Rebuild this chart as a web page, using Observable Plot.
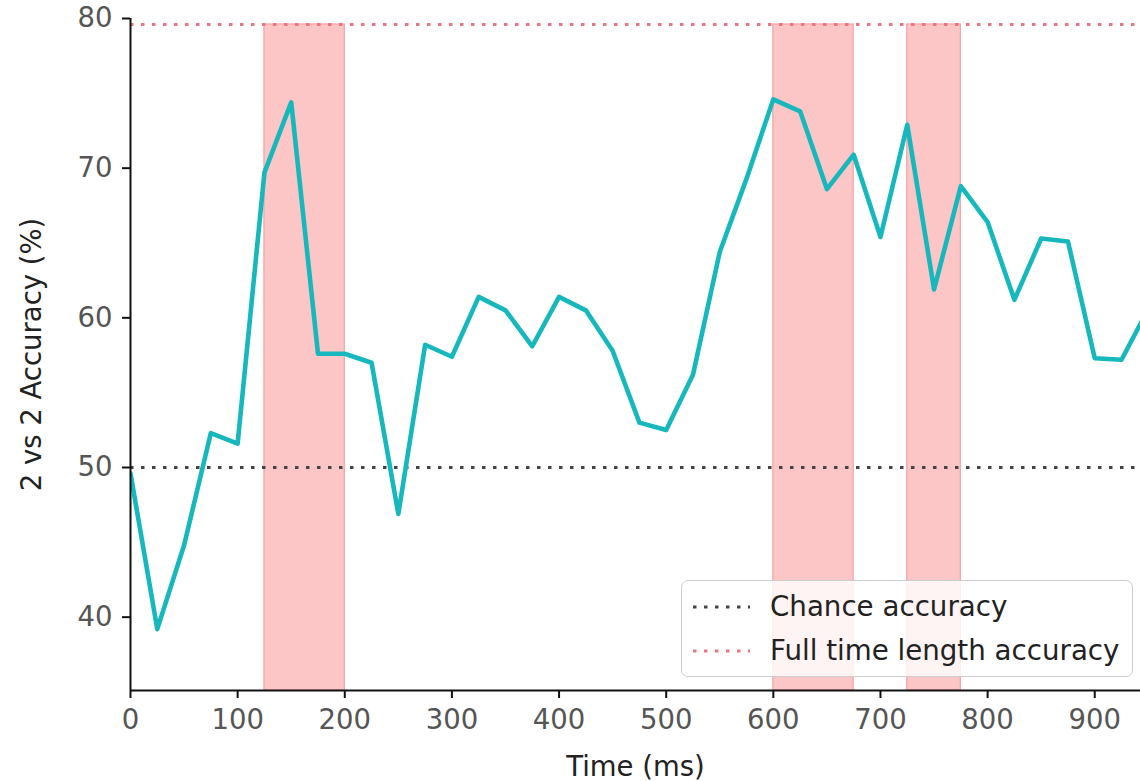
<!DOCTYPE html>
<html>
<head>
<meta charset="utf-8">
<script src="https://cdn.jsdelivr.net/npm/d3@7"></script>
<script src="https://cdn.jsdelivr.net/npm/@observablehq/plot@0.6"></script>
<style>
  html, body { margin: 0; padding: 0; background: #fff; }
  #wrap { position: relative; width: 1140px; height: 781px; font-family: "DejaVu Sans", sans-serif; }
  #legend {
    position: absolute; left: 681px; top: 580px; width: 452px; height: 97px;
    box-sizing: border-box; border: 1.5px solid #cccccc; border-radius: 7px;
    background: rgba(255,255,255,0.8);
  }
  .row { position: absolute; left: 0; height: 40px; display: flex; align-items: center; }
  .row svg { position: absolute; left: 10px; }
  .row span { position: absolute; left: 88px; font-size: 27.7px; color: #222; white-space: nowrap; line-height: 40px; }
</style>
</head>
<body>
<div id="wrap"></div>
<script>
// ---- data ----
const times = [0, 25, 50, 75, 100, 125, 150, 175, 200, 225, 250, 275, 300, 325, 350, 375, 400, 425, 450, 475,
               500, 525, 550, 575, 600, 625, 650, 675, 700, 725, 750, 775, 800, 825, 850, 875, 900, 925, 950];
const accuracy = [49.6, 39.2, 44.8, 52.3, 51.6, 69.7, 74.4, 57.6, 57.6, 57.0, 46.9, 58.2, 57.4, 61.4, 60.5, 58.1, 61.4, 60.5, 57.8, 53.0,
                  52.5, 56.2, 64.4, 69.3, 74.6, 73.8, 68.6, 70.9, 65.4, 72.9, 61.9, 68.8, 66.4, 61.2, 65.3, 65.1, 57.3, 57.2, 60.6];
const spanStart = [125, 600, 725];
const spanEnd = [200, 675, 775];
const chanceAccuracy = 50;
const fullAccuracy = 79.6;
const xTicks = [0, 100, 200, 300, 400, 500, 600, 700, 800, 900];
const yTicks = [40, 50, 60, 70, 80];
const xDomain = [0, 942.7];
const yDomain = [35.1, 80];
const legendLabels = ["Chance accuracy", "Full time length accuracy"];

const series = times.map((t, i) => ({t, v: accuracy[i]}));
const spans = spanStart.map((s, i) => ({x1: s, x2: spanEnd[i], y1: yDomain[0], y2: fullAccuracy}));

const chart = Plot.plot({
  width: 1140,
  height: 781,
  marginLeft: 130,
  marginRight: 0,
  marginTop: 18,
  marginBottom: 91,
  style: {fontFamily: "DejaVu Sans", background: "white", overflow: "visible"},
  x: {domain: xDomain},
  y: {domain: yDomain},
  marks: [
    Plot.rect(spans, {x1: "x1", x2: "x2", y1: "y1", y2: "y2", fill: "#fdc6c6", stroke: "#f2a3a3", strokeWidth: 1.2}),
    Plot.ruleY([chanceAccuracy], {stroke: "#444", strokeWidth: 3, strokeDasharray: "3.5,7.5"}),
    Plot.ruleY([fullAccuracy], {stroke: "#ec7483", strokeWidth: 3, strokeDasharray: "3.5,7.5"}),
    Plot.line(series, {x: "t", y: "v", stroke: "#17b8bd", strokeWidth: 4.6, clip: true}),
    Plot.ruleX([0], {stroke: "#111", strokeWidth: 2}),
    Plot.ruleY([yDomain[0]], {stroke: "#111", strokeWidth: 2}),
    Plot.axisX({ticks: xTicks, tickSize: 8, tickPadding: 11, fontSize: 27.5, stroke: "#111", strokeWidth: 2, fill: "#555",
                label: "Time (ms)", labelAnchor: "center", labelOffset: 85, labelArrow: false}),
    Plot.axisY({ticks: yTicks, tickSize: 8, tickPadding: 10, fontSize: 27.5, stroke: "#111", strokeWidth: 2, fill: "#555",
                label: "2 vs 2 Accuracy (%)", labelAnchor: "center", labelOffset: 109, labelArrow: false})
  ]
});

const wrap = document.getElementById("wrap");
wrap.appendChild(chart);

// axis label colour (darker than ticks)
chart.querySelectorAll('g[aria-label="x-axis label"] text, g[aria-label="y-axis label"] text').forEach(t => t.setAttribute("fill", "#222"));
chart.querySelectorAll('g[aria-label="x-axis label"], g[aria-label="y-axis label"]').forEach(g => g.setAttribute("fill", "#222"));

// legend
const legend = document.createElement("div");
legend.id = "legend";
const legendColors = ["#444", "#ec7483"];
legendLabels.forEach((lab, i) => {
  const row = document.createElement("div");
  row.className = "row";
  row.style.top = (6 + i * 44) + "px";
  row.innerHTML = `<svg width="60" height="40"><line x1="1" x2="58" y1="20" y2="20" stroke="${legendColors[i]}" stroke-width="3" stroke-dasharray="3.5,7.5"/></svg><span>${lab}</span>`;
  legend.appendChild(row);
});
wrap.appendChild(legend);
</script>
</body>
</html>
